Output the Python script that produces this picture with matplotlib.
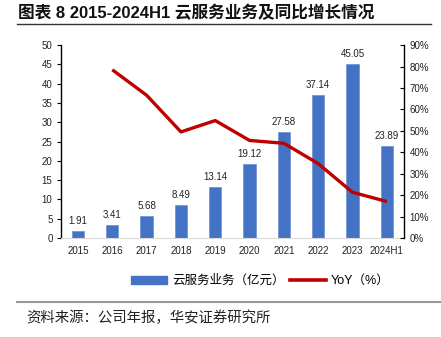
import matplotlib
matplotlib.use('Agg')
import matplotlib.pyplot as plt
import numpy as np
from matplotlib.lines import Line2D
from matplotlib.patches import Patch

plt.rcParams['font.family'] = ['Liberation Sans', 'Noto Sans CJK SC', 'DejaVu Sans']

# cloud service revenue (100M yuan) and year-on-year growth (%)
years = ['2015', '2016', '2017', '2018', '2019', '2020', '2021', '2022', '2023', '2024H1']
revenue = [1.91, 3.41, 5.68, 8.49, 13.14, 19.12, 27.58, 37.14, 45.05, 23.89]
yoy = [None, 78.5, 66.6, 49.5, 54.8, 45.5, 44.2, 34.7, 21.3, 17.0]

bar_color = '#4472C4'
line_color = '#C00000'
cjk = ['Noto Sans CJK SC', 'DejaVu Sans']
mixed = ['Liberation Sans', 'Noto Sans CJK SC', 'DejaVu Sans']

fig = plt.figure(figsize=(4.41, 3.37), dpi=100)
ax1 = fig.add_axes([0.138, 0.294, 0.778, 0.572])
ax2 = ax1.twinx()

x = np.arange(len(years))
ax1.bar(x, revenue, width=0.36, color=bar_color, edgecolor='#6C8FD2', linewidth=0.5, zorder=2)
for xi, v in zip(x, revenue):
    ax1.text(xi, v + 1.3, '%.2f' % v, ha='center', va='bottom', fontsize=7, color='#222222')

yx = [xi for xi, v in zip(x, yoy) if v is not None]
yv = [v for v in yoy if v is not None]
ax2.plot(yx, yv, color=line_color, lw=2.4, solid_capstyle='butt', zorder=3)

ax1.set_xlim(-0.5, len(years) - 0.5)
ax1.set_ylim(0, 50)
ax1.set_yticks(range(0, 51, 5))
ax2.set_ylim(0, 90)
ax2.set_yticks(range(0, 91, 10))
ax2.set_yticklabels(['%d%%' % v for v in range(0, 91, 10)])

ax1.set_xticks(x)
ax1.set_xticklabels(years)
ax1.tick_params(axis='x', length=0, labelsize=7, pad=6, colors='#222222')
ax1.tick_params(axis='y', length=3, width=0.8, labelsize=7, pad=3)
for lab in ax1.get_yticklabels():
    lab.set_color('#222222')
ax2.tick_params(axis='y', direction='in', length=3, width=0.8, labelsize=7, pad=4)
for lab in ax2.get_yticklabels():
    lab.set_color('#222222')

for a in (ax1, ax2):
    a.spines['top'].set_visible(False)
ax1.spines['right'].set_visible(False)
ax1.spines['bottom'].set_color('#D9D9D9')
ax1.spines['left'].set_linewidth(1.0)
ax2.spines['bottom'].set_visible(False)
ax2.spines['left'].set_visible(False)
ax2.spines['right'].set_linewidth(1.0)

handles = [Patch(facecolor=bar_color, edgecolor=bar_color),
           Line2D([0], [0], color=line_color, lw=2.6)]
fig.legend(handles, ['云服务业务（亿元）', 'YoY（%）'], loc='center',
           bbox_to_anchor=(0.59, 0.166), ncol=2, frameon=False,
           handlelength=2.9, handleheight=0.6, columnspacing=0.4, handletextpad=0.4,
           prop={'family': mixed, 'size': 9})

# title, rules and source note
fig.text(0.04, 0.963, '图表 8 2015-2024H1 云服务业务及同比增长情况', fontsize=12,
         fontweight='bold', family=mixed, va='center', color='#111111')
fig.add_artist(Line2D([0.038, 0.978], [0.928, 0.928], color='#333333', lw=1.0))
fig.add_artist(Line2D([0.038, 1.0], [0.104, 0.104], color='#999999', lw=1.5))
fig.text(0.06, 0.057, '资料来源：公司年报，华安证券研究所', fontsize=10.4,
         family=cjk, va='center', color='#222222')

fig.savefig('out.png', dpi=100)
